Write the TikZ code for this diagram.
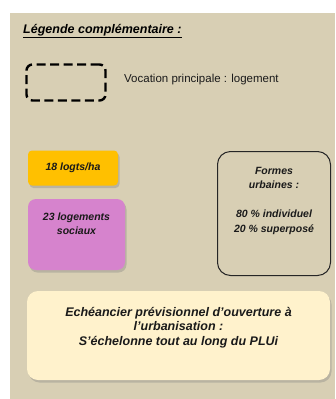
\documentclass[tikz,border=0pt]{standalone}
\usepackage{fontspec}
\setmainfont{Liberation Sans}
\usetikzlibrary{shadows}
\definecolor{bgbeige}{HTML}{D8CFB4}
\definecolor{boxyellow}{HTML}{FFC000}
\definecolor{boxpink}{HTML}{D683CD}
\definecolor{boxcream}{HTML}{FFF2CC}
\definecolor{txtdark}{HTML}{1A1A1A}
\tikzset{
  shadowbox/.style={draw=none, drop shadow={opacity=0.35, shadow xshift=1.5pt, shadow yshift=-2.5pt}},
  boxtext/.style={font=\fontsize{10.5}{14.5}\selectfont\bfseries\itshape, text=txtdark, align=center, inner sep=0pt},
  bigtext/.style={font=\fontsize{12.5}{14.5}\selectfont\bfseries\itshape, text=txtdark, align=center, inner sep=0pt},
}
\begin{document}
\begin{tikzpicture}[x=1pt,y=-1pt]
\useasboundingbox (0,0) rectangle (335,399);
\fill[white] (0,0) rectangle (335,399);
\fill[bgbeige] (10,13) rectangle (335,399);
\node[anchor=west, inner sep=0pt, font=\fontsize{12.5}{14}\selectfont\bfseries\itshape] (title) at (23,31) {\underline{Légende complémentaire :}};
\node[draw, dash pattern=on 9pt off 4.5pt, line width=2.4pt, rounded corners=6pt, minimum width=79pt, minimum height=36pt, inner sep=0pt] (dashbox) at (66,82.5) {};
\node[anchor=west, inner sep=0pt, text=txtdark, font=\fontsize{11.5}{13}\selectfont] (vocation) at (124,80) {Vocation principale : logement};
\node[shadowbox, fill=boxyellow, rounded corners=4pt, minimum width=90pt, minimum height=35pt, inner sep=0pt, boxtext] (yellow) at (73,168) {18 logts/ha};
\node[shadowbox, fill=boxpink, rounded corners=8pt, minimum width=97pt, minimum height=71pt, inner sep=0pt] (pink) at (76.5,234.5) {};
\node[boxtext] (pinktext) at (76.5,223.5) {23 logements\\sociaux};
\node[draw=black!85, line width=1pt, rounded corners=13pt, minimum width=113pt, minimum height=124pt, inner sep=0pt] (formes) at (274,213.5) {};
\node[boxtext] (formestext) at (274,200.5) {Formes\\urbaines :\\[14.5pt]80 \% individuel\\20 \% superposé};
\node[shadowbox, fill=boxcream, rounded corners=11pt, minimum width=303pt, minimum height=89pt, inner sep=0pt] (echeance) at (178.5,335.5) {};
\node[bigtext] (echeancetext) at (178.5,327.5) {Echéancier prévisionnel d’ouverture à\\l’urbanisation :\\S’échelonne tout au long du PLUi};
\end{tikzpicture}
\end{document}
